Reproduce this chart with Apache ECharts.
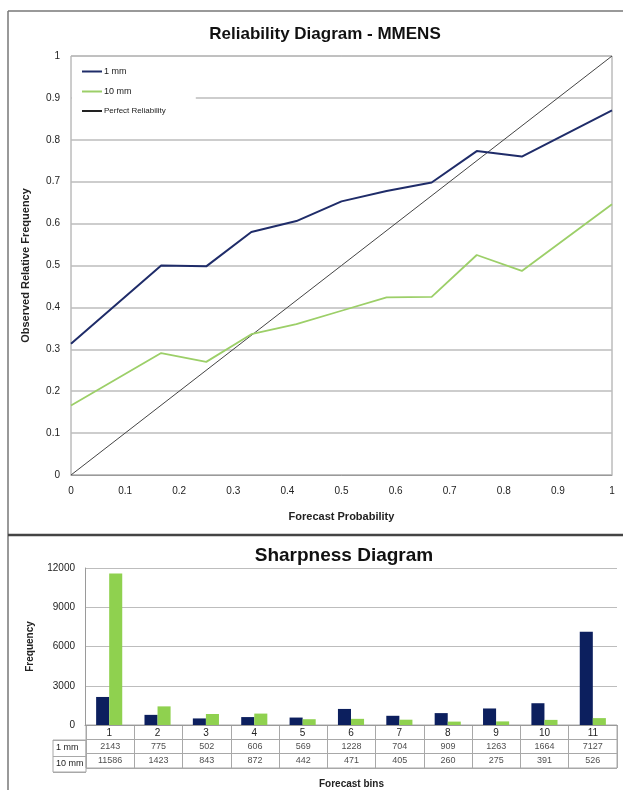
<!DOCTYPE html>
<html>
<head>
<meta charset="utf-8">
<script src="https://cdn.jsdelivr.net/npm/echarts@6/dist/echarts.min.js"></script>
<style>html,body{margin:0;padding:0;background:#fff;}#c{width:623px;height:790px;}</style>
</head>
<body>
<div id="c"></div>
<script>
// Reliability diagram data
const forecastProb = [0, 1/6, 1/4, 1/3, 5/12, 1/2, 7/12, 2/3, 3/4, 5/6, 1];
const obs1mm  = [0.313, 0.500, 0.498, 0.580, 0.606, 0.653, 0.678, 0.698, 0.773, 0.760, 0.870];
const obs10mm = [0.166, 0.291, 0.270, 0.336, 0.360, 0.392, 0.424, 0.425, 0.525, 0.487, 0.646];
const perfect = [[0, 0], [1, 1]];
// Sharpness diagram data
const bins = ['1','2','3','4','5','6','7','8','9','10','11'];
const freq1mm  = [2143, 775, 502, 606, 569, 1228, 704, 909, 1263, 1664, 7127];
const freq10mm = [11586, 1423, 843, 872, 442, 471, 405, 260, 275, 391, 526];
const rowNames = ['1 mm', '10 mm'];

const FONT = 'Liberation Sans';
const BLUE_LINE = '#1f2c69';
const GREEN_LINE = '#9ccf68';
const BLUE_BAR = '#0c1f5e';
const GREEN_BAR = '#8fd14f';
const GRIDC = '#bdbdbd';
const TABLEC = '#a8a8a8';

const chart = echarts.init(document.getElementById('c'), null, {renderer: 'canvas'});

const tableData1 = freq1mm.map((v, i) => [i, 1.5, v]);
const tableData10 = freq10mm.map((v, i) => [i, 2.5, v]);

const option = {
  backgroundColor: '#fff',
  animation: false,
  textStyle: {fontFamily: FONT},
  title: [
    {text: 'Reliability Diagram - MMENS', left: 320, top: 21, textAlign: 'center',
     textStyle: {fontFamily: FONT, fontSize: 17, fontWeight: 'bold', color: '#111'}},
    {text: 'Sharpness Diagram', left: 339, top: 541, textAlign: 'center',
     textStyle: {fontFamily: FONT, fontSize: 19, fontWeight: 'bold', color: '#111'}}
  ],
  legend: {
    data: [
      {name: '1 mm'},
      {name: '10 mm'},
      {name: 'Perfect Reliability', textStyle: {fontSize: 8}}
    ],
    orient: 'vertical',
    left: 72, top: 57,
    padding: [10, 30, 8, 10],
    backgroundColor: '#fff',
    itemWidth: 20, itemHeight: 2, itemGap: 11,
    icon: 'rect',
    textStyle: {fontFamily: FONT, fontSize: 9, color: '#222', padding: [0, 0, 0, -3]}
  },
  grid: [
    {left: 71, top: 56, right: 11, height: 419, show: true, borderColor: '#9a9a9a', borderWidth: 1, backgroundColor: 'transparent'},
    {left: 85, top: 568, right: 6, height: 157},
    {left: 86, top: 725, right: 6, height: 47, show: true, borderColor: TABLEC, borderWidth: 1},
    {left: 53, top: 740, width: 33, height: 32, show: true, borderColor: TABLEC, borderWidth: 1}
  ],
  xAxis: [
    {gridIndex: 0, type: 'value', min: 0, max: 1, interval: 0.1,
     axisLine: {show: true, lineStyle: {color: '#9a9a9a'}}, axisTick: {show: false},
     splitLine: {show: false},
     axisLabel: {fontSize: 10, color: '#222', margin: 11, fontFamily: FONT},
     name: 'Forecast Probability', nameLocation: 'middle', nameGap: 36,
     nameTextStyle: {fontSize: 11, fontWeight: 'bold', color: '#222', fontFamily: FONT}},
    {gridIndex: 1, type: 'category', data: bins,
     axisLine: {show: true, lineStyle: {color: '#9a9a9a'}}, axisTick: {show: false},
     axisLabel: {fontSize: 10, color: '#222', margin: 3, fontFamily: FONT}},
    {gridIndex: 2, type: 'category', data: bins, boundaryGap: true,
     axisLine: {show: false}, axisTick: {show: false}, axisLabel: {show: false},
     splitLine: {show: true, interval: 0, lineStyle: {color: TABLEC}},
     name: 'Forecast bins', nameLocation: 'middle', nameGap: 11,
     nameTextStyle: {fontSize: 10, fontWeight: 'bold', color: '#222', fontFamily: FONT}},
    {gridIndex: 3, type: 'value', show: false}
  ],
  yAxis: [
    {gridIndex: 0, type: 'value', min: 0, max: 1, interval: 0.1,
     axisLine: {show: false}, axisTick: {show: false},
     splitLine: {show: true, lineStyle: {color: GRIDC, width: 1.5}},
     axisLabel: {fontSize: 10, color: '#222', margin: 11, fontFamily: FONT},
     name: 'Observed Relative Frequency', nameLocation: 'middle', nameGap: 40, nameRotate: 90,
     nameTextStyle: {fontSize: 11, fontWeight: 'bold', color: '#222', fontFamily: FONT}},
    {gridIndex: 1, type: 'value', min: 0, max: 12000, interval: 3000,
     axisLine: {show: true, lineStyle: {color: '#9a9a9a'}}, axisTick: {show: false},
     splitLine: {show: true, lineStyle: {color: GRIDC, width: 1.2}},
     axisLabel: {fontSize: 10, color: '#222', margin: 10, fontFamily: FONT, formatter: v => String(v)},
     name: 'Frequency', nameLocation: 'middle', nameGap: 50, nameRotate: 90,
     nameTextStyle: {fontSize: 10, fontWeight: 'bold', color: '#222', fontFamily: FONT}},
    {gridIndex: 2, type: 'value', min: 0, max: 3, interval: 1, inverse: true,
     axisLine: {show: false}, axisTick: {show: false}, axisLabel: {show: false},
     splitLine: {show: true, lineStyle: {color: TABLEC}}},
    {gridIndex: 3, type: 'category', data: rowNames, inverse: true, boundaryGap: true,
     axisLine: {show: false}, axisTick: {show: false},
     splitLine: {show: true, interval: 0, lineStyle: {color: TABLEC}},
     axisLabel: {inside: true, margin: 3, fontSize: 9, color: '#222', fontFamily: FONT}}
  ],
  series: [
    {name: '1 mm', type: 'line', xAxisIndex: 0, yAxisIndex: 0,
     data: forecastProb.map((x, i) => [x, obs1mm[i]]),
     showSymbol: false, symbol: 'none', color: BLUE_LINE, lineStyle: {width: 2, color: BLUE_LINE}, z: 3},
    {name: '10 mm', type: 'line', xAxisIndex: 0, yAxisIndex: 0,
     data: forecastProb.map((x, i) => [x, obs10mm[i]]),
     showSymbol: false, symbol: 'none', color: GREEN_LINE, lineStyle: {width: 1.8, color: GREEN_LINE}, z: 3},
    {name: 'Perfect Reliability', type: 'line', xAxisIndex: 0, yAxisIndex: 0,
     data: perfect, showSymbol: false, symbol: 'none', color: '#222',
     lineStyle: {width: 1, color: '#444'}, z: 2},
    {name: '1 mm bars', type: 'bar', xAxisIndex: 1, yAxisIndex: 1, data: freq1mm,
     itemStyle: {color: BLUE_BAR}, barGap: '0%', barCategoryGap: '46%'},
    {name: '10 mm bars', type: 'bar', xAxisIndex: 1, yAxisIndex: 1, data: freq10mm,
     itemStyle: {color: GREEN_BAR}, barGap: '0%', barCategoryGap: '46%'},
    {name: 'table 1 mm', type: 'scatter', xAxisIndex: 2, yAxisIndex: 2, data: tableData1,
     symbolSize: 1, itemStyle: {color: 'rgba(0,0,0,0)'}, silent: true,
     label: {show: true, position: 'inside', formatter: p => String(p.value[2]), fontSize: 9, color: '#222', fontFamily: FONT}},
    {name: 'table 10 mm', type: 'scatter', xAxisIndex: 2, yAxisIndex: 2, data: tableData10,
     symbolSize: 1, itemStyle: {color: 'rgba(0,0,0,0)'}, silent: true,
     label: {show: true, position: 'inside', formatter: p => String(p.value[2]), fontSize: 9, color: '#222', fontFamily: FONT}}
  ],
  graphic: [
    {type: 'line', shape: {x1: 8, y1: 11, x2: 623, y2: 11}, style: {stroke: '#777', lineWidth: 1.5}, silent: true},
    {type: 'line', shape: {x1: 8, y1: 11, x2: 8, y2: 790}, style: {stroke: '#777', lineWidth: 1.5}, silent: true},
    {type: 'line', shape: {x1: 8, y1: 535, x2: 623, y2: 535}, style: {stroke: '#444', lineWidth: 2.5}, silent: true}
  ]
};
chart.setOption(option);
</script>
</body>
</html>
